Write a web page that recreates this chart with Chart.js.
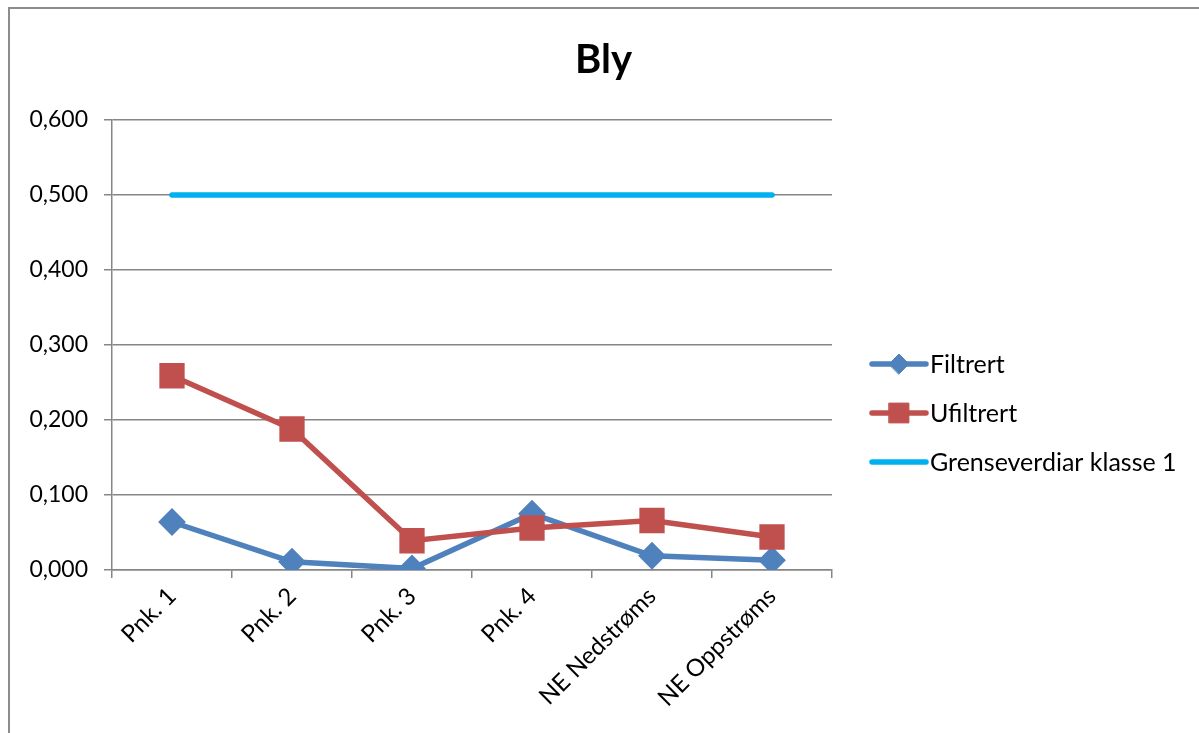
<!DOCTYPE html>
<html>
<head>
<meta charset="utf-8">
<script src="https://cdn.jsdelivr.net/npm/chart.js@4/dist/chart.umd.min.js"></script>
<style>
  html, body { margin: 0; padding: 0; background: #fff; }
  canvas { display: block; }
</style>
</head>
<body>
<canvas id="myChart" width="1199" height="733"></canvas>
<script>
(() => {
    'use strict';

    // data
    const categories = ['Pnk. 1', 'Pnk. 2', 'Pnk. 3', 'Pnk. 4', 'NE Nedstrøms', 'NE Oppstrøms'];
    const filtrert = [0.064, 0.011, 0.002, 0.075, 0.019, 0.013];
    const ufiltrert = [0.259, 0.188, 0.039, 0.056, 0.066, 0.044];
    const grense = [0.5, 0.5, 0.5, 0.5, 0.5, 0.5];

    const FONT = 'Lato';
    const GRID = '#868686';

    // outer frame of the chart object
    const framePlugin = {
        id: 'frame',
        afterLayout(chart) {
            // centre the title over the whole object, not only the plot
            const t = chart.titleBlock;
            if (t) {
                t.left = 0;
                t.right = chart.width + 8;
                t.width = t.right - t.left;
            }
        },
        beforeDraw(chart) {
            const c = chart.ctx;
            c.save();
            c.fillStyle = '#fff';
            c.fillRect(0, 0, chart.width, chart.height);
            c.strokeStyle = '#8c8c8c';
            c.lineWidth = 2;
            c.strokeRect(9, 8, chart.width + 50, chart.height + 50);
            c.restore();
        }
    };

    // legend drawn to the right like in the spreadsheet
    const sideLegend = {
        id: 'sideLegend',
        afterDraw(chart) {
            const c = chart.ctx;
            const x0 = 872, x1 = 926;
            const ys = [364, 413, 462];
            c.save();
            chart.data.datasets.forEach((ds, i) => {
                const y = ys[i];
                c.strokeStyle = ds.borderColor;
                c.lineWidth = ds.borderWidth;
                c.lineCap = 'round';
                c.beginPath();
                c.moveTo(x0, y);
                c.lineTo(x1, y);
                c.stroke();
                if (ds.pointRadius > 0) {
                    c.fillStyle = ds.pointBackgroundColor;
                    c.strokeStyle = ds.pointBackgroundColor;
                    c.lineWidth = 1;
                    Chart.helpers.drawPoint(c, {
                        pointStyle: ds.pointStyle,
                        radius: ds.pointRadius,
                        borderWidth: 1
                    }, (x0 + x1) / 2, y);
                }
                c.fillStyle = '#000';
                c.font = '25px ' + FONT;
                c.textBaseline = 'middle';
                c.textAlign = 'left';
                c.fillText(ds.label, x1 + 4, y + 1);
            });
            c.restore();
        }
    };

    const ctx = document.getElementById('myChart');

    new Chart(ctx, {
        type: 'line',
        data: {
            labels: categories,
            datasets: [{
                label: 'Filtrert',
                data: filtrert,
                borderColor: '#4F81BD',
                backgroundColor: '#4F81BD',
                borderWidth: 5.5,
                pointStyle: 'rectRot',
                pointRadius: 10,
                pointHoverRadius: 10,
                pointBackgroundColor: '#4F81BD',
                pointBorderColor: '#4F81BD',
                order: 1
            }, {
                label: 'Ufiltrert',
                data: ufiltrert,
                borderColor: '#C0504D',
                backgroundColor: '#C0504D',
                borderWidth: 5.5,
                pointStyle: 'rect',
                pointRadius: 14,
                pointHoverRadius: 14,
                pointBackgroundColor: '#C0504D',
                pointBorderColor: '#C0504D',
                order: 0
            }, {
                label: 'Grenseverdiar klasse 1',
                data: grense,
                borderColor: '#00B0F0',
                backgroundColor: '#00B0F0',
                borderWidth: 5.5,
                borderCapStyle: 'round',
                pointRadius: 0,
                pointHoverRadius: 0,
                order: 2
            }]
        },
        options: {
            responsive: false,
            animation: false,
            devicePixelRatio: 1,
            lineTension: 0,
            layout: {
                padding: { left: 0, right: 367, top: 0, bottom: 0 }
            },
            scales: {
                x: {
                    offset: true,
                    afterFit(scale) { scale.height = 163; },
                    grid: {
                        offset: true,
                        drawOnChartArea: false,
                        drawTicks: true,
                        tickLength: 8,
                        color: GRID,
                        lineWidth: 1.5
                    },
                    border: { color: GRID, width: 1.5 },
                    ticks: {
                        color: '#000',
                        font: { family: FONT, size: 24 },
                        minRotation: 45,
                        maxRotation: 45,
                        padding: 4,
                        autoSkip: false
                    }
                },
                y: {
                    min: 0,
                    max: 0.6,
                    afterFit(scale) { scale.width = 112; },
                    grid: {
                        color: GRID,
                        lineWidth: 1.5,
                        tickLength: 8
                    },
                    border: { color: GRID, width: 1.5 },
                    ticks: {
                        stepSize: 0.1,
                        color: '#000',
                        padding: 16,
                        font: { family: FONT, size: 23 },
                        callback: v => v.toFixed(3).replace('.', ',')
                    }
                }
            },
            plugins: {
                legend: { display: false },
                tooltip: { enabled: false },
                title: {
                    display: true,
                    text: 'Bly',
                    color: '#000',
                    font: { family: FONT, size: 40, weight: 'bold', lineHeight: 1.2 },
                    padding: { top: 36, bottom: 36 }
                }
            }
        },
        plugins: [framePlugin, sideLegend]
    });
})();
</script>
</body>
</html>
